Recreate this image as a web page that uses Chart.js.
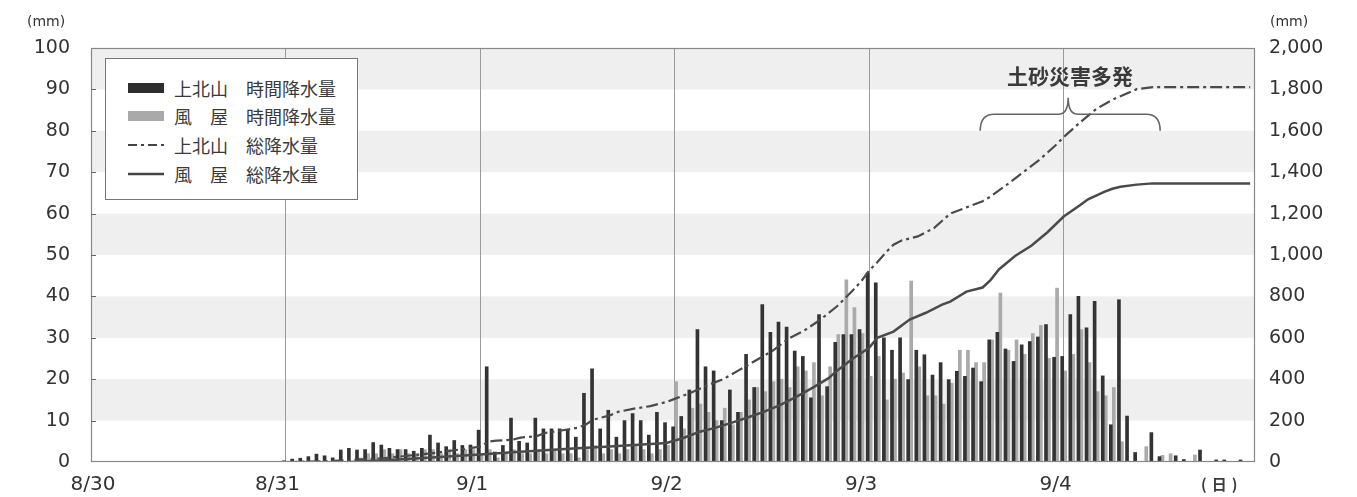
<!DOCTYPE html>
<html><head><meta charset="utf-8">
<script src="https://cdn.jsdelivr.net/npm/chart.js@4/dist/chart.umd.min.js"></script>
<style>
body{margin:0;background:#fff;}
#wrap{position:relative;width:1357px;height:497px;font-family:"DejaVu Sans",sans-serif;color:#333;overflow:hidden;}
canvas{position:absolute;left:0;top:0;}
.t{position:absolute;white-space:nowrap;line-height:1;}
#legend{position:absolute;left:105px;top:58px;width:251px;height:140px;border:1.5px solid #777;background:#fff;font-family:"Noto Sans CJK JP",sans-serif;font-size:18px;color:#3a3a3a;}
.row{position:absolute;left:0;height:24px;width:250px;}
.row svg{position:absolute;left:20px;top:0;}
.row .a{position:absolute;left:68px;top:0;line-height:24px;}
.row .b{position:absolute;left:140px;top:0;line-height:24px;}
</style></head>
<body>
<div id="wrap">
<canvas id="c" width="1357" height="497"></canvas>
<div class="t" style="left:27px;top:14px;font-size:14px;">(mm)</div>
<div class="t" style="left:1270px;top:14px;font-size:14px;">(mm)</div>
<div class="t" style="left:1201px;top:476px;font-size:15px;font-weight:bold;font-family:'Noto Sans CJK JP',sans-serif;color:#3a3a3a;letter-spacing:5px;">(日)</div>
<div class="t" style="left:1007px;top:65px;font-size:21px;font-weight:bold;font-family:'Noto Sans CJK JP',sans-serif;color:#3a3a3a;">土砂災害多発</div>
<div id="legend">
  <div class="row" style="top:17px"><svg width="40" height="24"><rect x="2" y="7" width="36" height="10" fill="#2e2e2e"/></svg><span class="a">上北山</span><span class="b">時間降水量</span></div>
  <div class="row" style="top:45px"><svg width="40" height="24"><rect x="2" y="7" width="36" height="10" fill="#a9a9a9"/></svg><span class="a">風　屋</span><span class="b">時間降水量</span></div>
  <div class="row" style="top:74px"><svg width="40" height="24"><line x1="2" y1="12" x2="38" y2="12" stroke="#444" stroke-width="2.2" stroke-dasharray="9 4 3 4"/></svg><span class="a">上北山</span><span class="b">総降水量</span></div>
  <div class="row" style="top:103px"><svg width="40" height="24"><line x1="2" y1="12" x2="38" y2="12" stroke="#444" stroke-width="2.4"/></svg><span class="a">風　屋</span><span class="b">総降水量</span></div>
</div>
</div>
<script>
// ---- data ----
const dayLabels = ['8/30','8/31','9/1','9/2','9/3','9/4'];
const hourStart = 24; // hours counted from 8/30 0:00
const kamiHourly = [
 0.3,0.7,0.9,1.3,1.9,1.5,1.0,2.9,3.3,2.9,3.0,4.7,4.1,3.3,3.0,3.0,2.6,3.3,6.5,4.6,3.7,5.2,4.0,4.1,
 7.7,23,2.4,4,10.6,5,4.6,10.6,8,8,8,7.7,6,16.6,22.5,8,12.5,6,10,11.7,10,6.5,12,9.5,
 8.5,11,17.4,32,23,22,10,17.4,12,26,18,38,31.3,33.8,32.6,26.8,25.5,15.5,35.6,18.2,28.9,30.8,30.8,32,
 45.7,43.3,30,27,30,19.9,27,25.9,21,24,19.9,21.9,20.7,22.7,19.4,29.5,31.3,27.3,24.3,28.3,29.1,30.2,33.2,25.3,
 25.5,35.6,40,32.4,38.8,20.8,9,39.2,11.1,2.3,0,7.1,1.3,0,1.5,0.6,0,2.9,0,0.5,0.5,0,0.5,0];
const kazeHourly = [
 0,0,0,0,0,0,0,0,0,1,2,2,3,2,3,2,2,3,3,2,3,2,3,3,
 2,3,1,2,3,2,2,3,2,3,2,2,1,3,4,2,3,2,3,4,3,2,3,4,
 19.4,8,13,14,12,10,13,9,12,15,18,17,19.4,20,18,23,22,24,16,23,30.8,44,37.3,31,
 20.7,25.5,15,20,21.5,43.7,23,16,16,14,19,27,27,24,24,29.5,40.8,27,29.5,26,31,33,25,42,
 22,26,32,24,17,16,18,4.9,0,0,3.7,0,1.6,2,0,0,1.7,0,0,0,0,0,0,0];
const kamiCumHours  = [24,30,36,42,47,48,49,50,52,53,55,56,58,60,61,62,64,65,67,69,71,72,74,76,78,80,82,84,86,88,90,91,92,93,94,95,96,97,98,99,100,102,104,106,108,110,111,113,115,117,119,120,122,124,126,127,129,131,143];
const kamiCumValues = [0,5,18,42,68,75,98,103,108,118,125,140,152,165,180,205,225,242,258,270,290,305,335,370,400,445,490,535,595,635,688,720,751,790,830,872,925,965,1010,1050,1070,1090,1130,1200,1230,1260,1283,1340,1400,1460,1530,1570,1640,1705,1750,1767,1801,1811,1811];
const kazeCumHours  = [32,36,40,44,48,52,56,60,64,68,71,73,75,77,79,81,83,85,87,89,91,92,93,94,96,97,99,101,103,105,106,108,110,111,112,114,116,118,120,122,123,125,126,127,129,131,143];
const kazeCumValues = [0,7,17,27,36,47,57,66,75,84,92,115,145,165,189,215,242,275,315,358,405,440,470,500,552,600,630,688,721,760,775,823,843,880,930,995,1045,1110,1186,1240,1269,1305,1320,1330,1340,1346,1346];
const disasterSpan = [109.7, 131.9];   // hours, brace "土砂災害多発"
const bandRanges = [[10,20],[30,40],[50,60],[70,80],[90,100]];

const hours = kamiHourly.map((_, i) => hourStart + i);
const pts = (xs, ys) => xs.map((x, i) => ({x, y: ys[i]}));
const FONT = 'DejaVu Sans';

const decor = {
  id: 'decor',
  beforeDraw(chart) {
    const {ctx, chartArea: a, scales: {y}} = chart;
    ctx.save();
    ctx.fillStyle = '#efefef';
    bandRanges.forEach(([lo, hi]) => {
      const t = y.getPixelForValue(hi), b = y.getPixelForValue(lo);
      ctx.fillRect(a.left, t, a.right - a.left, b - t);
    });
    ctx.restore();
  },
  afterDraw(chart) {
    const {ctx, chartArea: a, scales: {x, y}} = chart;
    ctx.save();
    ctx.strokeStyle = '#888';
    ctx.lineWidth = 1.2;
    ctx.strokeRect(a.left + 0.5, a.top + 0.5, a.right - a.left - 1, a.bottom - a.top - 1);
    ctx.strokeStyle = '#666';
    ctx.lineWidth = 1;
    for (let v = 10; v < 100; v += 10) {
      const py = Math.round(y.getPixelForValue(v)) + 0.5;
      ctx.beginPath(); ctx.moveTo(a.left, py); ctx.lineTo(a.left + 5, py); ctx.stroke();
    }
    // day labels (printed slightly left of their day line, as in the source)
    ctx.fillStyle = '#333';
    ctx.font = '20px "' + FONT + '"';
    ctx.textAlign = 'center';
    ctx.textBaseline = 'middle';
    dayLabels.forEach((lab, i) => {
      const px = x.getPixelForValue(i * 24) + (i === 0 ? 2 : -8);
      ctx.fillText(lab, px, a.bottom + 23);
    });
    // brace
    const xl = x.getPixelForValue(disasterSpan[0]), xr = x.getPixelForValue(disasterSpan[1]);
    const xm = (xl + xr) / 2 - 2;
    const yEnd = y.getPixelForValue(80), yMid = y.getPixelForValue(84), yTop = y.getPixelForValue(88);
    ctx.strokeStyle = '#666';
    ctx.lineWidth = 1.6;
    ctx.beginPath();
    ctx.moveTo(xl, yEnd);
    ctx.quadraticCurveTo(xl, yMid, xl + 14, yMid);
    ctx.lineTo(xm - 10, yMid);
    ctx.quadraticCurveTo(xm, yMid, xm, yTop);
    ctx.quadraticCurveTo(xm, yMid, xm + 10, yMid);
    ctx.lineTo(xr - 14, yMid);
    ctx.quadraticCurveTo(xr, yMid, xr, yEnd);
    ctx.stroke();
    ctx.restore();
  }
};

new Chart(document.getElementById('c'), {
  type: 'bar',
  data: {
    datasets: [
      {type: 'line', label: '上北山 総降水量', data: pts(kamiCumHours, kamiCumValues), yAxisID: 'y2',
       borderColor: '#4a4a4a', borderWidth: 2.2, borderDash: [12, 4, 3, 4], pointRadius: 0, fill: false, tension: 0, order: 0},
      {type: 'line', label: '風屋 総降水量', data: pts(kazeCumHours, kazeCumValues), yAxisID: 'y2',
       borderColor: '#4a4a4a', borderWidth: 2.5, pointRadius: 0, fill: false, tension: 0, order: 0},
      {label: '上北山 時間降水量', data: pts(hours, kamiHourly), yAxisID: 'y',
       backgroundColor: '#333333', barThickness: 3, borderWidth: 0, order: 1},
      {label: '風屋 時間降水量', data: pts(hours, kazeHourly), yAxisID: 'y',
       backgroundColor: '#aaaaaa', barThickness: 3, borderWidth: 0, order: 1}
    ]
  },
  options: {
    responsive: false, animation: false,
    layout: {padding: {top: 48, left: 0, right: 0, bottom: 0}},
    plugins: {legend: {display: false}, tooltip: {enabled: false}},
    scales: {
      x: {type: 'linear', min: 0, max: 143.6, offset: false,
          afterBuildTicks(s) { s.ticks = dayLabels.map((_, i) => ({value: i * 24})); },
          ticks: {display: false},
          grid: {color: '#9a9a9a', lineWidth: 1, drawTicks: false, offset: false},
          border: {display: false},
          afterFit(s) { s.height = 35; }},
      y: {position: 'left', min: 0, max: 100,
          ticks: {stepSize: 10, font: {size: 19, family: FONT}, color: '#333', padding: 21},
          grid: {display: false, drawTicks: false}, border: {display: false},
          afterFit(s) { s.width = 91; }},
      y2: {position: 'right', min: 0, max: 2000,
          ticks: {stepSize: 200, callback: v => v.toLocaleString('en-US'), font: {size: 19, family: FONT}, color: '#333', padding: 14},
          grid: {display: false, drawTicks: false}, border: {display: false},
          afterFit(s) { s.width = 102; }}
    }
  },
  plugins: [decor]
});
</script>
</body></html>
